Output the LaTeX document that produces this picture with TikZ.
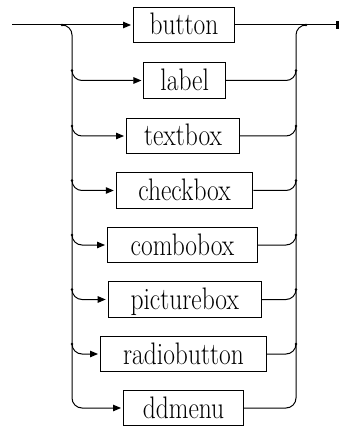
\documentclass[tikz,border=0pt]{standalone}
\usepackage{fontspec}
\usepackage{graphicx}
\usetikzlibrary{arrows.meta}
\newcommand\lbltxt[1]{\scalebox{1}[1.22]{#1}}
\begin{document}
\begin{tikzpicture}[x=1pt,y=-1pt,
  line width=1pt,
  box/.style={draw, inner sep=0pt, minimum height=35.5pt, text height=20pt, text depth=0pt,
    font=\fontsize{25.5}{26}\selectfont},
  arr/.style={-{Triangle[length=8pt,width=6.5pt]}, shorten >=2pt},
  rail/.style={rounded corners=10pt},
  endtip/.style={-{Rectangle[length=3pt,width=8pt]}}
]
\useasboundingbox (0,0) rectangle (339,427);

% boxes
\node[box, minimum width=101pt]   (b1) at (184,25)    {\lbltxt{button}};
\node[box, minimum width=81.5pt]  (b2) at (184.7,80.5){\lbltxt{label}};
\node[box, minimum width=113pt]   (b3) at (183,136)   {\lbltxt{textbox}};
\node[box, minimum width=136.5pt] (b4) at (184.5,190.5){\lbltxt{checkbox}};
\node[box, minimum width=150pt]   (b5) at (182.5,245) {\lbltxt{combobox}};
\node[box, minimum width=153pt]   (b6) at (184.7,299.5){\lbltxt{picturebox}};
\node[box, minimum width=166pt]   (b7) at (183.5,354) {\lbltxt{radiobutton}};
\node[box, minimum width=120pt]   (b8) at (183.5,408) {\lbltxt{ddmenu}};

% rail coordinates
\coordinate (start) at (12,25);
\coordinate (finish) at (339,25);
\coordinate (Ltop) at (62,25);
\coordinate (Lc1) at (72,25);
\coordinate (Lc8) at (72,408);
\coordinate (Rtop) at (306,25);
\coordinate (Rc1) at (296,25);
\coordinate (Rc8) at (296,408);

% main line
\draw[arr] (start) -- (b1.west);
\draw[endtip] (b1.east) -- (finish);

% outer rails
\draw[rail,arr] (Ltop) -- (Lc1) -- (Lc8) -- (b8.west);
\draw[rail] (b8.east) -- (Rc8) -- (Rc1) -- (Rtop);
\fill (Ltop) circle (1.4pt);
\fill (Rtop) circle (1.4pt);

% inner branches
\foreach \i/\y in {2/80.5,3/136,4/190.5,5/245,6/299.5,7/354}{
  \coordinate (L\i) at (72,\y-10);
  \coordinate (R\i) at (296,\y-10);
  \draw[rail,arr] (L\i) |- (b\i.west);
  \draw[rail] (b\i.east) -| (R\i);
  \fill (L\i) circle (1.4pt);
  \fill (R\i) circle (1.4pt);
}
\end{tikzpicture}
\end{document}
